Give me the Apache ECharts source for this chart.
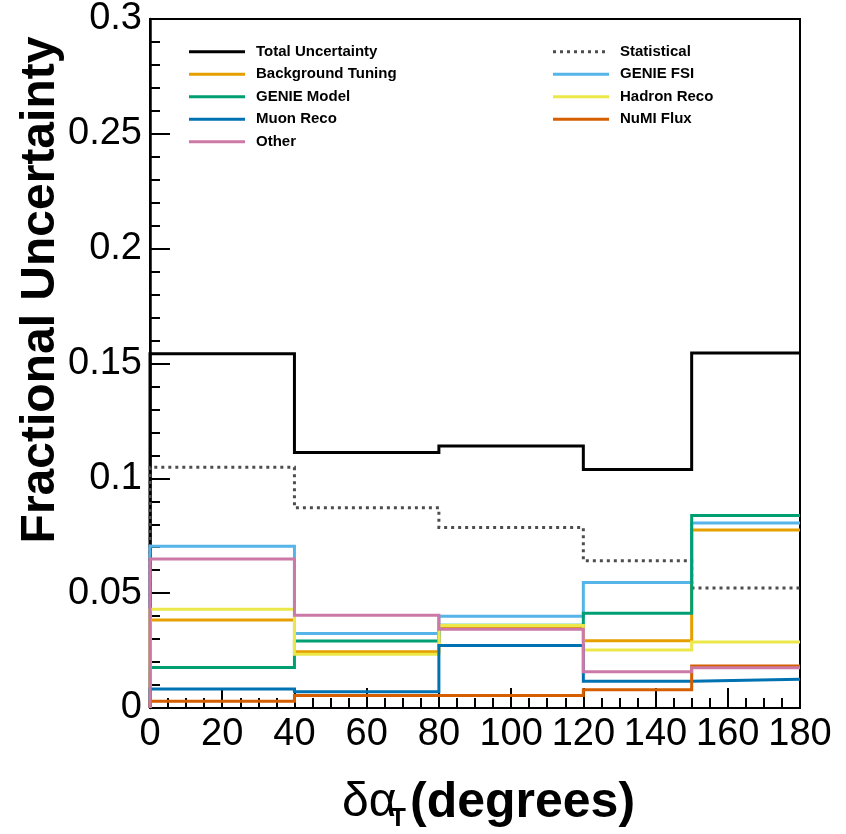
<!DOCTYPE html>
<html>
<head>
<meta charset="utf-8">
<script src="https://cdn.jsdelivr.net/npm/echarts@6/dist/echarts.min.js"></script>
<style>
html,body{margin:0;padding:0;background:#fff;}
#chart{width:846px;height:834px;}
</style>
</head>
<body>
<div id="chart"></div>
<script>
// Bin edges (degrees)
const binEdges = [0, 40, 80, 120, 150, 180];
// Fractional uncertainties per bin
const totalUnc      = [0.1542, 0.1112, 0.1141, 0.1038, 0.1546];
const statistical   = [0.1048, 0.0872, 0.0786, 0.0641, 0.0522];
const bkgTuning     = [0.0383, 0.0245, 0.0348, 0.0293, 0.0775];
const genieFSI      = [0.0704, 0.0324, 0.0400, 0.0546, 0.0806];
const genieModel    = [0.0176, 0.0292, 0.0360, 0.0413, 0.0838];
const hadronReco    = [0.0430, 0.0234, 0.0359, 0.0252, 0.0287];
const muonReco      = [0.0083, 0.0071, 0.0272, 0.0117, 0.0125];
const numiFlux      = [0.0029, 0.0054, 0.0054, 0.0080, 0.0183];
const other         = [0.0649, 0.0404, 0.0343, 0.0158, 0.0175];
const yTicks = [0, 0.05, 0.1, 0.15, 0.2, 0.25, 0.3];
const xTicks = [0, 20, 40, 60, 80, 100, 120, 140, 160, 180];

const seriesDefs = [
  {name: 'Total Uncertainty', data: totalUnc,    color: '#000000', type: 'solid', col: 0, row: 0},
  {name: 'Statistical',       data: statistical, color: '#4d4d4d', type: [3, 4], col: 1, row: 0},
  {name: 'Background Tuning', data: bkgTuning,   color: '#E69F00', type: 'solid', col: 0, row: 1},
  {name: 'GENIE FSI',         data: genieFSI,    color: '#56B4E9', type: 'solid', col: 1, row: 1},
  {name: 'GENIE Model',       data: genieModel,  color: '#009E73', type: 'solid', col: 0, row: 2},
  {name: 'Hadron Reco',       data: hadronReco,  color: '#ECE84A', type: 'solid', col: 1, row: 2},
  {name: 'Muon Reco',         data: muonReco,    color: '#0072B2', type: 'solid', col: 0, row: 3},
  {name: 'NuMI Flux',         data: numiFlux,    color: '#D55E00', type: 'solid', col: 1, row: 3},
  {name: 'Other',             data: other,       color: '#CC79A7', type: 'solid', col: 0, row: 4}
];

function histPoints(vals) {
  const pts = [[binEdges[0], 0]];
  for (let i = 0; i < vals.length; i++) {
    pts.push([binEdges[i], vals[i]]);
    pts.push([binEdges[i + 1], vals[i]]);
  }
  return pts;
}

const FONT = '"Liberation Sans", Arial, Helvetica, sans-serif';

const series = seriesDefs.map(d => ({
  name: d.name,
  type: 'line',
  data: histPoints(d.data),
  showSymbol: false,
  symbol: 'none',
  silent: true,
  animation: false,
  lineStyle: {color: d.color, width: 3, type: d.type, cap: 'butt', join: 'miter'},
  clip: true
}));

// Legend drawn as graphic elements (two columns)
const legendGraphics = [];
const legLeft = [{x0: 189, x1: 245, tx: 256}, {x0: 553, x1: 609, tx: 620}];
const rowY0 = 51.7, rowDy = 22.5;
seriesDefs.forEach(d => {
  const c = legLeft[d.col];
  const y = rowY0 + d.row * rowDy;
  legendGraphics.push({
    type: 'line',
    shape: {x1: c.x0, y1: y, x2: c.x1, y2: y},
    style: {stroke: d.color, lineWidth: 3, lineDash: d.type === 'solid' ? null : d.type},
    silent: true
  });
  legendGraphics.push({
    type: 'text',
    x: c.tx, y: y,
    style: {text: d.name, fill: '#000', font: 'bold 15px ' + FONT, textAlign: 'left', textVerticalAlign: 'middle'},
    silent: true
  });
});

const chart = echarts.init(document.getElementById('chart'), null, {renderer: 'canvas'});
chart.setOption({
  backgroundColor: '#ffffff',
  animation: false,
  grid: {left: 150, right: 46, top: 19, bottom: 126, show: true, borderColor: '#000', borderWidth: 2, backgroundColor: 'transparent'},
  xAxis: {
    type: 'value', min: 0, max: 180, interval: 20,
    axisLine: {show: true, onZero: false, lineStyle: {color: '#000', width: 2}},
    axisTick: {show: true, inside: true, length: 20, lineStyle: {color: '#000', width: 2}},
    minorTick: {show: true, splitNumber: 4, length: 10, lineStyle: {color: '#000', width: 2}},
    splitLine: {show: false},
    axisLabel: {color: '#000', fontSize: 38, fontFamily: FONT, margin: 8,
      formatter: v => (xTicks.indexOf(v) >= 0 ? String(v) : '')}
  },
  yAxis: {
    type: 'value', min: 0, max: 0.3, interval: 0.05,
    axisLine: {show: true, onZero: false, lineStyle: {color: '#000', width: 2.5}},
    axisTick: {show: true, inside: true, length: 20, lineStyle: {color: '#000', width: 2}},
    minorTick: {show: true, splitNumber: 5, length: 10, lineStyle: {color: '#000', width: 2}},
    splitLine: {show: false},
    axisLabel: {color: '#000', fontSize: 38, fontFamily: FONT, margin: 8,
      formatter: v => {
        const t = yTicks.find(k => Math.abs(k - v) < 1e-9);
        return t === undefined ? '' : String(t);
      }}
  },
  series: series,
  graphic: legendGraphics.concat([
    {
      type: 'text', x: 41, y: 290, rotation: Math.PI / 2,
      style: {text: 'Fractional Uncertainty', fill: '#000', font: 'bold 48px ' + FONT, textAlign: 'center', textVerticalAlign: 'middle'},
      silent: true
    },
    {
      type: 'text', x: 342, y: 803,
      style: {text: 'δα', fill: '#000', font: '48px ' + FONT, textAlign: 'left', textVerticalAlign: 'middle'},
      silent: true
    },
    {
      type: 'text', x: 390, y: 819,
      style: {text: 'T', fill: '#000', font: 'bold 26px ' + FONT, textAlign: 'left', textVerticalAlign: 'middle'},
      silent: true
    },
    {
      type: 'text', x: 410, y: 803,
      style: {text: '(degrees)', fill: '#000', font: 'bold 50px ' + FONT, textAlign: 'left', textVerticalAlign: 'middle'},
      silent: true
    }
  ])
});
</script>
</body>
</html>
